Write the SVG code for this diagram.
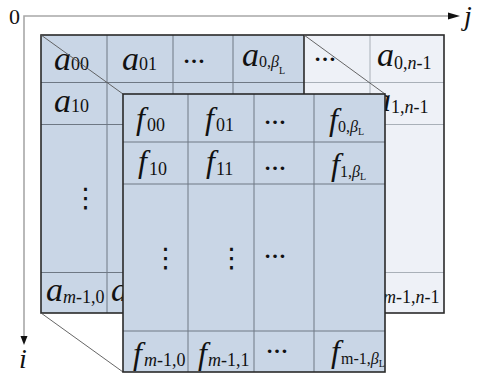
<svg xmlns="http://www.w3.org/2000/svg" width="478" height="378" viewBox="0 0 478 378">
<style>
.t{font-family:"Liberation Serif","Times New Roman",serif;font-style:italic;fill:#111}
.a{font-size:34px}
.f{font-size:32px}
.s{font-size:18px;font-style:normal}
.si{font-size:18px;font-style:italic}
.s2{font-size:16px;font-style:normal}
.b2{font-size:16px;font-style:italic}
.L{font-size:10px;font-style:normal}
.el{font-family:"Liberation Serif",serif;font-size:22px;font-weight:bold;fill:#111}
.ve{font-family:"DejaVu Sans",sans-serif;font-size:27px;fill:#111}
.blue{fill:#c9d6e6}
.light{fill:#eef1f7}
.grid{stroke:#6e7884;stroke-width:1;fill:none}
.lgrid{stroke:#a9b0b8;stroke-width:1;fill:none}
.border{stroke:#2a2a2a;stroke-width:1.6;fill:none}
.diag{stroke:#555;stroke-width:0.9;fill:none}
.axis{stroke:#a8a8a8;stroke-width:1.6;fill:none}
</style>
<g id="axes">
<path class="axis" d="M24,340 L24,16 L456,16"/>
<path d="M448,12.5 L460,16 L448,19.5 Z" fill="#111"/>
<path d="M20.5,336 L24,345 L27.5,336 Z" fill="#111"/>
<text class="t" x="9" y="24" style="font-style:normal;font-size:22px">0</text>
<text class="t" x="464" y="25" style="font-size:28px">j</text>
<text class="t" x="19" y="368" style="font-size:28px">i</text>
</g>
<g id="back-matrix">
<rect class="blue" x="41" y="35" width="263" height="278"/>
<rect class="light" x="304" y="35" width="140" height="278"/>
<path class="grid" d="M107,35V313 M173,35V313 M233,35V313 M41,82.5H304 M41,124.5H304 M41,272.5H304"/>
<path class="lgrid" d="M370,35V313 M304,82.5H444 M304,124.5H444 M304,272.5H444"/>
<rect class="border" x="41" y="35" width="403" height="278"/>
<path class="border" d="M304,35V313"/>
<text class="t a" x="54" y="70">a<tspan class="s" x="71" y="70">00</tspan></text>
<text class="t a" x="122" y="70">a<tspan class="s" x="139" y="70">01</tspan></text>
<text class="el" x="183" y="63">…</text>
<text class="t a" x="242" y="66">a<tspan class="s2" x="259" y="67">0,</tspan><tspan class="b2">β</tspan><tspan class="L" y="74">L</tspan></text>
<text class="el" x="314" y="61">…</text>
<text class="t a" x="377" y="66">a<tspan class="s" x="394" y="69">0,</tspan><tspan class="si">n</tspan><tspan class="s">-1</tspan></text>
<text class="t a" x="54" y="112">a<tspan class="s" x="71" y="112">10</tspan></text>
<text class="t a" x="374" y="111">a<tspan class="s" x="391" y="113">1,</tspan><tspan class="si">n</tspan><tspan class="s">-1</tspan></text>
<text class="ve" x="72" y="207">⋮</text>
<text class="t a" x="46" y="301">a<tspan class="si" x="63" y="303">m</tspan><tspan class="s">-1,0</tspan></text>
<text class="t a" x="111" y="301">a<tspan class="si" x="128" y="303">m</tspan><tspan class="s">-1,1</tspan></text>
<text class="t a" x="366" y="301">a<tspan class="si" x="383" y="303">m</tspan><tspan class="s">-1,</tspan><tspan class="si">n</tspan><tspan class="s">-1</tspan></text>
</g>
<g id="connectors">
<path class="diag" d="M41,35 L123,94 M304,35 L385,94 M41,313 L123,372"/>
</g>
<g id="front-matrix">
<rect class="blue" x="123" y="94" width="262" height="278"/>
<path class="grid" d="M188,94V372 M254,94V372 M314,94V372 M123,142H385 M123,184H385 M123,331H385"/>
<rect class="border" x="123" y="94" width="262" height="278"/>
<text class="t f" x="136" y="129">f<tspan class="s" x="147" y="131">00</tspan></text>
<text class="t f" x="205" y="129">f<tspan class="s" x="216" y="131">01</tspan></text>
<text class="el" x="264" y="124">…</text>
<text class="t f" x="329" y="130">f<tspan class="s2" x="338" y="132">0,</tspan><tspan class="b2">β</tspan><tspan class="L" y="135">L</tspan></text>
<text class="t f" x="138" y="172">f<tspan class="s" x="149" y="175">10</tspan></text>
<text class="t f" x="206" y="172">f<tspan class="s" x="216" y="175">11</tspan></text>
<text class="el" x="264" y="170">…</text>
<text class="t f" x="331" y="175">f<tspan class="s2" x="340" y="177">1,</tspan><tspan class="b2">β</tspan><tspan class="L" y="180">L</tspan></text>
<text class="ve" x="152" y="267">⋮</text>
<text class="ve" x="218" y="267">⋮</text>
<text class="el" x="264" y="258">…</text>
<text class="t f" x="133" y="364">f<tspan class="si" x="144" y="366">m</tspan><tspan class="s">-1,0</tspan></text>
<text class="t f" x="198" y="364">f<tspan class="si" x="208" y="366">m</tspan><tspan class="s">-1,1</tspan></text>
<text class="el" x="266" y="353">…</text>
<text class="t f" x="331" y="362">f<tspan class="s2" x="341" y="364">m-1,</tspan><tspan class="b2">β</tspan><tspan class="L" y="367">L</tspan></text>
</g>
</svg>
